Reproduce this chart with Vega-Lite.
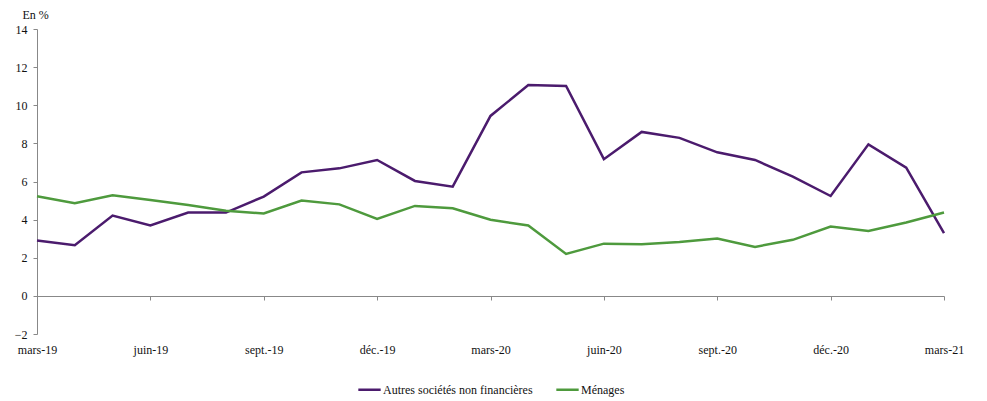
{
  "$schema": "https://vega.github.io/schema/vega-lite/v6.json",
  "autosize": "none",
  "width": 907,
  "height": 305,
  "padding": {"left": 37, "top": 29, "right": 43, "bottom": 67},
  "background": "white",
  "config": {
    "view": {"stroke": null},
    "font": "Liberation Serif",
    "axis": {"labelFont": "Liberation Serif", "labelFontSize": 12, "labelColor": "#111", "domainColor": "#888", "tickColor": "#888", "grid": false}
  },
  "data": {
    "values": [
      {"mois": "mars-19", "serie": "Autres sociétés non financières", "valeur": 2.90},
      {"mois": "avr.-19", "serie": "Autres sociétés non financières", "valeur": 2.66},
      {"mois": "mai-19", "serie": "Autres sociétés non financières", "valeur": 4.21},
      {"mois": "juin-19", "serie": "Autres sociétés non financières", "valeur": 3.69},
      {"mois": "juil.-19", "serie": "Autres sociétés non financières", "valeur": 4.37},
      {"mois": "août-19", "serie": "Autres sociétés non financières", "valeur": 4.37},
      {"mois": "sept.-19", "serie": "Autres sociétés non financières", "valeur": 5.21},
      {"mois": "oct.-19", "serie": "Autres sociétés non financières", "valeur": 6.48},
      {"mois": "nov.-19", "serie": "Autres sociétés non financières", "valeur": 6.69},
      {"mois": "déc.-19", "serie": "Autres sociétés non financières", "valeur": 7.13},
      {"mois": "janv.-20", "serie": "Autres sociétés non financières", "valeur": 6.03},
      {"mois": "févr.-20", "serie": "Autres sociétés non financières", "valeur": 5.73},
      {"mois": "mars-20", "serie": "Autres sociétés non financières", "valeur": 9.44},
      {"mois": "avr.-20", "serie": "Autres sociétés non financières", "valeur": 11.06},
      {"mois": "mai-20", "serie": "Autres sociétés non financières", "valeur": 11.01},
      {"mois": "juin-20", "serie": "Autres sociétés non financières", "valeur": 7.17},
      {"mois": "juil.-20", "serie": "Autres sociétés non financières", "valeur": 8.60},
      {"mois": "août-20", "serie": "Autres sociétés non financières", "valeur": 8.29},
      {"mois": "sept.-20", "serie": "Autres sociétés non financières", "valeur": 7.53},
      {"mois": "oct.-20", "serie": "Autres sociétés non financières", "valeur": 7.13},
      {"mois": "nov.-20", "serie": "Autres sociétés non financières", "valeur": 6.26},
      {"mois": "déc.-20", "serie": "Autres sociétés non financières", "valeur": 5.24},
      {"mois": "janv.-21", "serie": "Autres sociétés non financières", "valeur": 7.95},
      {"mois": "févr.-21", "serie": "Autres sociétés non financières", "valeur": 6.73},
      {"mois": "mars-21", "serie": "Autres sociétés non financières", "valeur": 3.29},
      {"mois": "mars-19", "serie": "Ménages", "valeur": 5.23},
      {"mois": "avr.-19", "serie": "Ménages", "valeur": 4.86},
      {"mois": "mai-19", "serie": "Ménages", "valeur": 5.28},
      {"mois": "juin-19", "serie": "Ménages", "valeur": 5.03},
      {"mois": "juil.-19", "serie": "Ménages", "valeur": 4.77},
      {"mois": "août-19", "serie": "Ménages", "valeur": 4.47},
      {"mois": "sept.-19", "serie": "Ménages", "valeur": 4.32},
      {"mois": "oct.-19", "serie": "Ménages", "valeur": 5.00},
      {"mois": "nov.-19", "serie": "Ménages", "valeur": 4.80},
      {"mois": "déc.-19", "serie": "Ménages", "valeur": 4.04},
      {"mois": "janv.-20", "serie": "Ménages", "valeur": 4.72},
      {"mois": "févr.-20", "serie": "Ménages", "valeur": 4.60},
      {"mois": "mars-20", "serie": "Ménages", "valeur": 3.99},
      {"mois": "avr.-20", "serie": "Ménages", "valeur": 3.69},
      {"mois": "mai-20", "serie": "Ménages", "valeur": 2.20},
      {"mois": "juin-20", "serie": "Ménages", "valeur": 2.74},
      {"mois": "juil.-20", "serie": "Ménages", "valeur": 2.71},
      {"mois": "août-20", "serie": "Ménages", "valeur": 2.82},
      {"mois": "sept.-20", "serie": "Ménages", "valeur": 3.01},
      {"mois": "oct.-20", "serie": "Ménages", "valeur": 2.57},
      {"mois": "nov.-20", "serie": "Ménages", "valeur": 2.94},
      {"mois": "déc.-20", "serie": "Ménages", "valeur": 3.64},
      {"mois": "janv.-21", "serie": "Ménages", "valeur": 3.41},
      {"mois": "févr.-21", "serie": "Ménages", "valeur": 3.85},
      {"mois": "mars-21", "serie": "Ménages", "valeur": 4.37}
    ]
  },
  "mark": {"type": "line", "strokeWidth": 2.5},
  "encoding": {
    "x": {
      "field": "mois",
      "type": "ordinal",
      "sort": null,
      "scale": {"type": "point", "padding": 0},
      "axis": {
        "title": null,
        "labelAngle": 0,
        "values": ["mars-19", "juin-19", "sept.-19", "déc.-19", "mars-20", "juin-20", "sept.-20", "déc.-20", "mars-21"],
        "offset": -38,
        "tickSize": 4,
        "labelPadding": 44,
        "labelBaseline": "top"
      }
    },
    "y": {
      "field": "valeur",
      "type": "quantitative",
      "scale": {"domain": [-2, 14], "nice": false, "zero": false},
      "axis": {
        "values": [-2, 0, 2, 4, 6, 8, 10, 12, 14],
        "tickSize": 4,
        "labelPadding": 6,
        "title": "En %",
        "titleAngle": 0,
        "titleFont": "Liberation Serif",
        "titleFontSize": 12,
        "titleFontWeight": "normal",
        "titleColor": "#111",
        "titleAlign": "left",
        "titleBaseline": "alphabetic",
        "titleX": -15,
        "titleY": -11
      }
    },
    "color": {
      "field": "serie",
      "type": "nominal",
      "scale": {"domain": ["Autres sociétés non financières", "Ménages"], "range": ["#4b1b6d", "#4e9a3d"]},
      "legend": {
        "title": null,
        "orient": "none",
        "direction": "horizontal",
        "legendX": 320,
        "legendY": 348,
        "symbolType": "stroke",
        "symbolSize": 500,
        "symbolStrokeWidth": 2.5,
        "labelFont": "Liberation Serif",
        "labelFontSize": 12,
        "labelColor": "#111",
        "labelOffset": 1,
        "columnPadding": 18
      }
    }
  }
}
